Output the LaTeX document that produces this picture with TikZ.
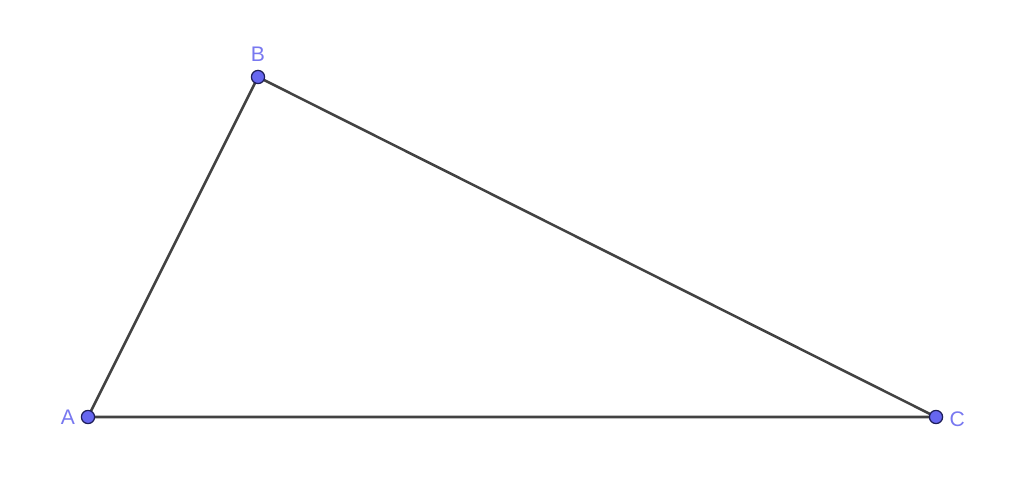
\documentclass[tikz,border=0pt]{standalone}
\usepackage{fontspec}
\setmainfont{Liberation Sans}
\usetikzlibrary{positioning}
\definecolor{edgegray}{RGB}{66,66,66}
\definecolor{ptblue}{RGB}{102,102,240}
\definecolor{ptrim}{RGB}{30,30,90}
\definecolor{lblblue}{RGB}{120,120,240}
\tikzset{
	side/.style={draw=edgegray, line width=1.8pt},
	pt/.style={circle, fill=ptblue, draw=ptrim, line width=0.9pt, minimum size=0.33cm, inner sep=0pt},
	lbl/.style={text=lblblue, font=\fontsize{15}{18}\selectfont, inner sep=0pt}
}
\begin{document}
\begin{tikzpicture}
	\useasboundingbox (0,0) rectangle (25.6,12.125);
	\coordinate (A) at (2.2,1.7); \coordinate (B) at (6.45,10.2); \coordinate (C) at (23.4,1.7);
	\draw[side] (A) -- (B) -- (C) -- cycle;
	\node[pt] (pA) at (A) {}; \node[pt] (pB) at (B) {}; \node[pt] (pC) at (C) {};
	\node[lbl] (lA) at ([xshift=-0.5cm]pA.center) {A};
	\node[lbl] (lB) at ([yshift=0.58cm]pB.center) {B};
	\node[lbl] (lC) at ([xshift=0.53cm, yshift=-0.05cm]pC.center) {C};
\end{tikzpicture}
\end{document}
